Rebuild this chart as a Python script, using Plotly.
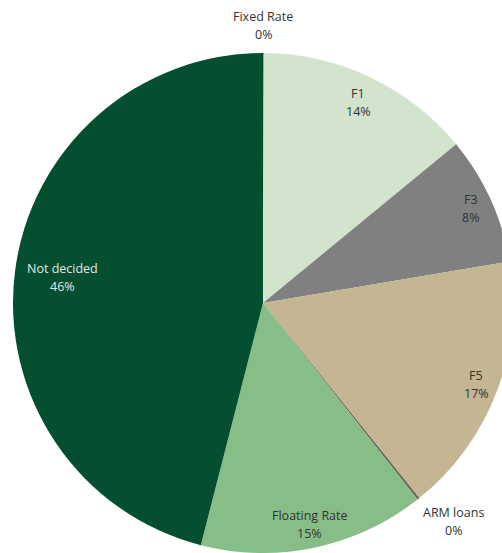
import math
import plotly.graph_objects as go

# ---- data ----
labels = ["Fixed Rate", "F1", "F3", "F5", "ARM loans", "Floating Rate", "Not decided"]
values = [0.05, 14.0, 8.3, 16.9, 0.15, 14.6, 46.0]

# ---- style ----
colors = ["#4f7f5c", "#d3e4cd", "#808080", "#c4b692", "#6b6656", "#87be88", "#034f30"]
text_colors = ["#333333", "#333333", "#333333", "#333333", "#333333", "#333333", "#e6e6e6"]
label_r = [1.112, 0.888, 0.912, 0.912, 1.15, 0.904, 0.81]  # label distance / radius
label_shift = [(0, 0), (0, 0), (0, 0), (0, 0), (12, 7), (0, 0), (0, 0)]  # px nudges

FONT = "Open Sans, Lato, sans-serif"
W, H = 526, 606
ML, MT = 13, 53

fig = go.Figure()
fig.add_trace(go.Pie(
    labels=labels, values=values, sort=False, direction="clockwise", rotation=0,
    marker=dict(colors=colors, line=dict(width=0)),
    textinfo="none", hoverinfo="label+percent", showlegend=False,
    domain=dict(x=[0, 1], y=[0, 1]),
))

total = sum(values)
cum = 0.0
annotations = []
for lab, v, tc, rf, (sx, sy) in zip(labels, values, text_colors, label_r, label_shift):
    mid = (cum + v / 2) / total * 2 * math.pi
    cum += v
    xp = 0.5 + 0.5 * rf * math.sin(mid)
    yp = 0.5 + 0.5 * rf * math.cos(mid)
    pct = f"{v / total * 100:.0f}%"
    for txt, dy in ((lab, 9), (pct, -9)):
        annotations.append(dict(
            x=xp, y=yp, xref="paper", yref="paper", text=txt, showarrow=False,
            xanchor="center", yanchor="middle", xshift=sx, yshift=dy + sy,
            font=dict(family=FONT, size=12.5, color=tc),
        ))

fig.update_layout(
    width=W, height=H,
    margin=dict(l=ML, r=W - ML - 500, t=MT, b=H - MT - 500, pad=0),
    paper_bgcolor="white", plot_bgcolor="white",
    annotations=annotations,
    font=dict(family=FONT),
)

fig.write_html(
    "out.html",
    config={"displayModeBar": False},
    post_script="document.body.style.margin='0';document.body.style.overflow='hidden';document.documentElement.style.overflow='hidden';",
)
